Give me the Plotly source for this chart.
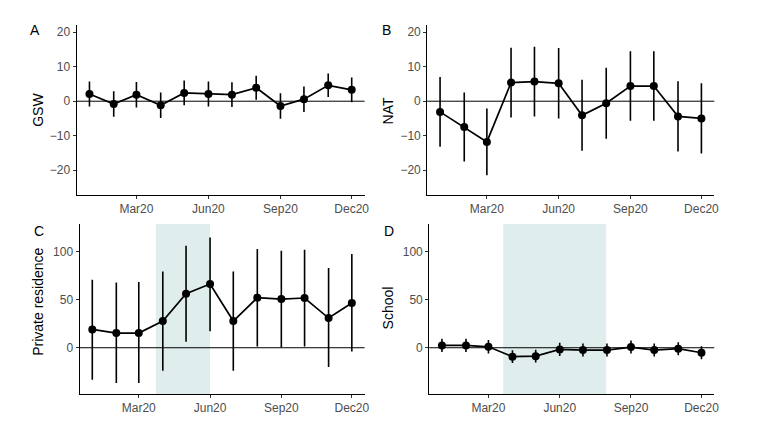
import plotly.graph_objects as go

months = ["2020-01-01", "2020-02-01", "2020-03-01", "2020-04-01", "2020-05-01", "2020-06-01",
          "2020-07-01", "2020-08-01", "2020-09-01", "2020-10-01", "2020-11-01", "2020-12-01"]

gsw = [2.1, -0.8, 1.9, -1.2, 2.4, 2.1, 1.9, 3.9, -1.4, 0.6, 4.6, 3.3]
gsw_err = [3.6, 3.7, 3.7, 3.7, 3.6, 3.6, 3.6, 3.5, 3.7, 3.7, 3.4, 3.6]

nat = [-3.1, -7.5, -11.8, 5.4, 5.7, 5.2, -4.1, -0.6, 4.4, 4.4, -4.4, -5.0]
nat_err = [10.1, 10.0, 9.7, 10.1, 10.1, 10.2, 10.3, 10.3, 10.1, 10.1, 10.2, 10.2]

priv = [19.0, 15.2, 15.2, 27.7, 56.1, 66.1, 27.7, 51.9, 50.5, 51.6, 30.8, 46.4]
priv_up = [70.6, 67.8, 68.2, 79.2, 105.9, 114.5, 79.2, 102.4, 100.7, 101.7, 82.7, 97.2]
priv_lo = [-33.2, -36.7, -36.7, -23.9, 6.2, 17.0, -23.9, 1.4, 0.3, 1.4, -20.1, -3.8]

school = [2.4, 2.4, 1.0, -9.3, -8.7, -1.7, -2.4, -2.4, 0.7, -2.4, -1.0, -5.2]
school_err = [6.9, 6.9, 7.1, 6.6, 6.6, 6.8, 6.8, 6.8, 6.8, 6.8, 6.8, 6.8]

tick_vals = ["2020-03-01", "2020-06-01", "2020-09-01", "2020-12-01"]
tick_text = ["Mar20", "Jun20", "Sep20", "Dec20"]

lockdown_res = ["2020-03-23", "2020-06-01"]
lockdown_school = ["2020-03-20", "2020-07-31"]

panel_labels = ["A", "B", "C", "D"]
y_titles = ["GSW", "NAT", "Private residence", "School"]

OFF = 8  # page body margin
W, H = 760 - OFF, 425 - OFF
FONT = "Liberation Sans, Arial, sans-serif"


def px(x):
    return (x - OFF) / W


def py(y):
    return 1 - (y - OFF) / H


# plot areas in window pixels: (left, right, top, bottom)
areas = [(77, 367, 25, 195), (430, 719, 25, 195), (80, 367, 224, 394), (432, 719, 224, 394)]

fig = go.Figure()

series = [
    (gsw, [v + e for v, e in zip(gsw, gsw_err)], [v - e for v, e in zip(gsw, gsw_err)]),
    (nat, [v + e for v, e in zip(nat, nat_err)], [v - e for v, e in zip(nat, nat_err)]),
    (priv, priv_up, priv_lo),
    (school, [v + e for v, e in zip(school, school_err)], [v - e for v, e in zip(school, school_err)]),
]

yranges = [[-27.2, 22.1], [-27.2, 22.1], [-48, 128.4], [-48, 128.4]]
ytickvals = [[-20, -10, 0, 10, 20], [-20, -10, 0, 10, 20], [0, 50, 100], [0, 50, 100]]

for i, (vals, up, lo) in enumerate(series):
    n = "" if i == 0 else str(i + 1)
    xa, ya = "x" + n, "y" + n
    fig.add_trace(go.Scatter(
        x=months, y=vals, xaxis=xa, yaxis=ya, mode="lines+markers",
        line=dict(color="black", width=1.7),
        marker=dict(color="black", size=8),
        error_y=dict(type="data", symmetric=False,
                     array=[u - v for u, v in zip(up, vals)],
                     arrayminus=[v - l for v, l in zip(vals, lo)],
                     color="black", thickness=1.6, width=0),
        showlegend=False, hoverinfo="skip"))
    l, r, t, b = areas[i]
    fig.layout["xaxis" + n] = dict(
        domain=[px(l), px(r)], anchor=ya, type="date",
        range=["2019-12-15 12:00", "2020-12-17 12:00"],
        tickvals=tick_vals, ticktext=tick_text,
        showgrid=False, zeroline=False, showline=True, linecolor="black", linewidth=1,
        ticks="outside", ticklen=3, tickcolor="#333333", tickwidth=1,
        tickfont=dict(family=FONT, size=12, color="#4D4D4D"))
    fig.layout["yaxis" + n] = dict(
        domain=[py(b), py(t)], anchor=xa, range=yranges[i],
        tickvals=ytickvals[i],
        showgrid=False, zeroline=False, showline=True, linecolor="black", linewidth=1,
        ticks="outside", ticklen=3, tickcolor="#333333", tickwidth=1,
        tickfont=dict(family=FONT, size=12, color="#4D4D4D"))
    # zero line
    fig.add_shape(type="line", xref=xa + " domain", yref=ya, x0=0, x1=1, y0=0, y1=0,
                  line=dict(color="black", width=1))

# shaded periods
fig.add_shape(type="rect", xref="x3", yref="y3 domain", x0=lockdown_res[0], x1=lockdown_res[1],
              y0=0, y1=1, fillcolor="#DFEDED", line=dict(width=0), layer="below")
fig.add_shape(type="rect", xref="x4", yref="y4 domain", x0=lockdown_school[0], x1=lockdown_school[1],
              y0=0, y1=1, fillcolor="#DFEDED", line=dict(width=0), layer="below")

# panel letters
letter_pos = [(35, 30), (389, 30), (39, 231), (392, 231)]
for lab, (x, y) in zip(panel_labels, letter_pos):
    fig.add_annotation(text=lab, x=px(x), y=py(y), xref="paper", yref="paper",
                       showarrow=False, xanchor="center", yanchor="middle",
                       font=dict(family=FONT, size=14, color="black"))

# y titles
title_pos = [(38, 110), (391, 111), (38, 302), (391, 308)]
for txt, (x, y) in zip(y_titles, title_pos):
    fig.add_annotation(text=txt, x=px(x), y=py(y), xref="paper", yref="paper",
                       showarrow=False, textangle=-90, xanchor="center", yanchor="middle",
                       font=dict(family=FONT, size=14, color="black"))

fig.update_layout(width=W, height=H, margin=dict(l=0, r=0, t=0, b=0),
                  paper_bgcolor="white", plot_bgcolor="white")

fig.write_html("out.html")
